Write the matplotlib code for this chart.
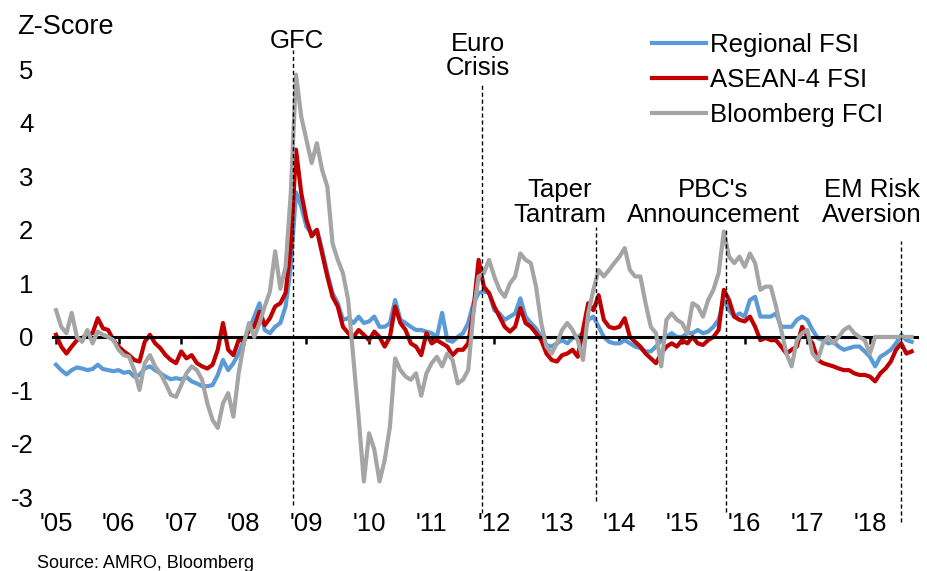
import matplotlib
matplotlib.use("Agg")
import matplotlib.pyplot as plt
import pandas as pd

# monthly readings, Jan 2005 .. Sep 2018
months = pd.date_range("2005-01-01", periods=165, freq="MS")

regional_fsi = [
    -0.52, -0.62, -0.70, -0.62, -0.57, -0.59, -0.62, -0.60, -0.52, -0.60, -0.62, -0.64,
    -0.62, -0.67, -0.65, -0.74, -0.71, -0.59, -0.55, -0.62, -0.68, -0.74, -0.79, -0.77,
    -0.79, -0.75, -0.83, -0.87, -0.92, -0.92, -0.90, -0.71, -0.43, -0.62, -0.49, -0.31,
    -0.06, 0.13, 0.38, 0.63, 0.13,
    0.07, 0.19, 0.26, 0.57, 1.31, 2.70, 2.44, 2.06, 1.94, 2.00, 1.63, 1.19,
    0.82, 0.63, 0.32, 0.35, 0.26, 0.38, 0.26, 0.29, 0.38, 0.19, 0.19, 0.26,
    0.69, 0.32, 0.26, 0.19, 0.13, 0.13, 0.10, 0.07, 0.00, 0.45, -0.06, -0.09,
    0.00, 0.07, 0.26, 0.63, 0.82, 0.85, 0.82,
    0.50, 0.44, 0.32, 0.38, 0.44, 0.72, 0.38, 0.26, 0.16, 0.00, -0.15, -0.18,
    -0.12, -0.06, -0.12, -0.02, 0.00, 0.07, 0.32, 0.38, 0.19, 0.00, -0.09, -0.12,
    -0.12, -0.06, -0.12, -0.18, -0.21, -0.27, -0.27, -0.18, -0.06, 0.00, 0.07, 0.00,
    0.00, 0.07, 0.07, 0.13,
    0.07, 0.10, 0.19, 0.32, 0.69, 0.50, 0.38, 0.44, 0.38, 0.69, 0.75, 0.38,
    0.38, 0.38, 0.44, 0.19, 0.19, 0.19, 0.32, 0.38, 0.32, 0.13, -0.02, -0.06,
    -0.12, -0.09, -0.18, -0.24, -0.21, -0.18, -0.18, -0.27, -0.37, -0.55, -0.37, -0.31,
    -0.24, -0.12, 0.04, -0.06, -0.09,
]

asean4_fsi = [
    0.04, -0.18, -0.31, -0.18, -0.06, -0.02, 0.04, 0.07, 0.35, 0.16, 0.13, -0.06,
    -0.18, -0.27, -0.34, -0.43, -0.46, -0.09, 0.04, -0.12, -0.21, -0.34, -0.43, -0.49,
    -0.27, -0.40, -0.34, -0.49, -0.55, -0.59, -0.52, -0.24, 0.26, -0.24, -0.34, -0.06,
    -0.06, 0.13, 0.19, 0.47, 0.22,
    0.35, 0.57, 0.63, 0.82, 1.69, 3.50, 2.69, 2.19, 1.88, 2.00, 1.56, 1.13,
    0.75, 0.57, 0.19, 0.07, 0.00, 0.13, 0.04, -0.06, 0.10, 0.00, -0.18, 0.00,
    0.57, 0.26, 0.13, -0.12, -0.18, -0.34, 0.07, -0.12, -0.06, -0.12, -0.18, -0.34,
    -0.24, -0.24, -0.12, 0.50, 1.44, 0.94, 0.82,
    0.57, 0.38, 0.19, 0.10, 0.19, 0.54, 0.26, 0.19, 0.07, -0.06, -0.31, -0.43,
    -0.46, -0.34, -0.31, -0.24, -0.37, 0.13, 0.63, 0.50, 0.78, 0.32, 0.19, 0.16,
    0.19, 0.35, 0.00, -0.09, -0.18, -0.31, -0.40, -0.49, -0.31, -0.18, -0.12, -0.18,
    -0.06, -0.12, 0.00, -0.12,
    -0.15, -0.06, 0.00, 0.13, 0.88, 0.69, 0.38, 0.32, 0.29, 0.38, 0.19, -0.06,
    -0.02, -0.06, -0.06, -0.18, -0.31, -0.24, -0.18, 0.19, 0.00, -0.12, -0.43, -0.49,
    -0.52, -0.55, -0.59, -0.62, -0.62, -0.68, -0.71, -0.71, -0.74, -0.83, -0.68, -0.59,
    -0.46, -0.24, -0.12, -0.31, -0.27,
]

bloomberg_fci = [
    0.50, 0.19, 0.07, 0.45, 0.00, -0.09, 0.13, -0.12, 0.10, 0.04, 0.00, -0.06,
    -0.24, -0.34, -0.37, -0.62, -0.99, -0.49, -0.34, -0.55, -0.68, -0.87, -1.08, -1.12,
    -0.90, -0.68, -0.55, -0.62, -0.80, -1.24, -1.55, -1.70, -1.24, -1.05, -1.49, -0.68,
    -0.12, 0.26, 0.00, 0.26, 0.57,
    0.85, 1.60, 0.90, 1.31, 2.69, 4.90, 4.12, 3.68, 3.25, 3.62, 3.12, 2.81,
    1.75, 1.44, 1.19, 0.69, -0.40, -1.50, -2.70, -1.80, -2.10, -2.70, -2.30, -1.68,
    -0.40, -0.62, -0.74, -0.80, -0.68, -1.10, -0.68, -0.49, -0.37, -0.55, -0.31, -0.43,
    -0.87, -0.80, -0.62, 0.44, 1.13, 1.19, 1.44,
    1.13, 0.88, 0.75, 1.00, 1.13, 1.56, 1.44, 1.38, 0.94, 0.26, -0.18, -0.31,
    -0.12, 0.13, 0.26, 0.13, -0.06, -0.43, 0.44, 0.88, 1.25, 1.13, 1.25, 1.38,
    1.50, 1.66, 1.25, 1.13, 1.13, 0.63, 0.19, 0.07, -0.55, 0.32, 0.44, 0.32,
    0.26, 0.07, 0.63, 0.57,
    0.38, 0.69, 0.88, 1.19, 1.97, 1.50, 1.38, 1.50, 1.31, 1.56, 1.38, 0.88,
    0.94, 0.94, 0.57, 0.13, -0.31, -0.55, -0.06, 0.07, 0.13, -0.31, -0.43, -0.12,
    0.00, -0.12, 0.00, 0.13, 0.19, 0.07, 0.00, -0.06, -0.31, 0.00, 0.00, 0.00,
    0.00, 0.00, 0.00, 0.00, 0.00,
]

years = list(range(2005, 2019))
year_labels = ["'%02d" % (y % 100) for y in years]
y_ticks = [-3, -2, -1, 0, 1, 2, 3, 4, 5]

event_dates = [2008.78, 2011.81, 2013.63, 2015.70, 2018.50]
event_labels = ["GFC", "Euro\nCrisis", "Taper\nTantram", "PBC's\nAnnouncement", "EM Risk\nAversion"]

plt.rcParams['font.family'] = ['Liberation Sans', 'DejaVu Sans']
plt.rcParams['axes.unicode_minus'] = False

t = months.year + (months.month - 1) / 12.0

fig = plt.figure(figsize=(9.28, 5.71), dpi=100)
ax = fig.add_axes([0.057, 0.110, 0.931, 0.806])

lw = 3.0
ax.plot(t, regional_fsi, color="#5B9BD5", lw=lw, label="Regional FSI", zorder=2)
ax.plot(t, asean4_fsi, color="#C00000", lw=lw, label="ASEAN-4 FSI", zorder=2.2)
ax.plot(t, bloomberg_fci, color="#A5A5A5", lw=lw, label="Bloomberg FCI", zorder=3)

ax.set_xlim(2004.95, 2018.75)
ax.set_ylim(-3.2, 5.4)

# event markers: (line top, line bottom) and label centre
line_ends = [(5.36, -3.14), (4.71, -3.29), (2.06, -3.07), (2.0, -3.27), (1.79, -3.46)]
label_pos = [(2008.85, 5.53), (2011.74, 5.25), (2013.05, 2.52), (2015.50, 2.52), (2018.03, 2.52)]
for d, lab, (top, bot), (lx, ly) in zip(event_dates, event_labels, line_ends, label_pos):
    ax.vlines(d, bot, top, colors="black", lw=1.0, linestyles=(0, (3, 2)),
              clip_on=False, zorder=4)
    ax.text(lx, ly, lab, ha="center", va="center", fontsize=18.5,
            linespacing=1.05, clip_on=False)

for side in ["top", "right", "left"]:
    ax.spines[side].set_visible(False)
ax.spines["bottom"].set_position(("data", 0))
ax.spines["bottom"].set_linewidth(2.2)
ax.set_xticks(years)
ax.tick_params(axis="x", direction="out", length=5, width=1.8, labelbottom=False)

sec = ax.secondary_xaxis("bottom")
sec.set_xticks(years, year_labels)
sec.tick_params(length=0, pad=3, labelsize=18.5)
sec.spines["bottom"].set_visible(False)

ax.set_yticks(y_ticks)
ax.tick_params(axis="y", length=0, pad=14, labelsize=18.5)

fig.text(0.018, 0.953, "Z-Score", fontsize=19.5, va="center", ha="left")
fig.text(0.040, 0.014, "Source: AMRO, Bloomberg", fontsize=13, va="center", ha="left")

ax.legend(loc="upper left", bbox_to_anchor=(0.7026, 0.942), bbox_transform=fig.transFigure,
          frameon=False, fontsize=18.5, handlelength=2.1, handletextpad=0.15,
          labelspacing=0.42, borderpad=0, borderaxespad=0)

fig.savefig("out.png", dpi=100)
